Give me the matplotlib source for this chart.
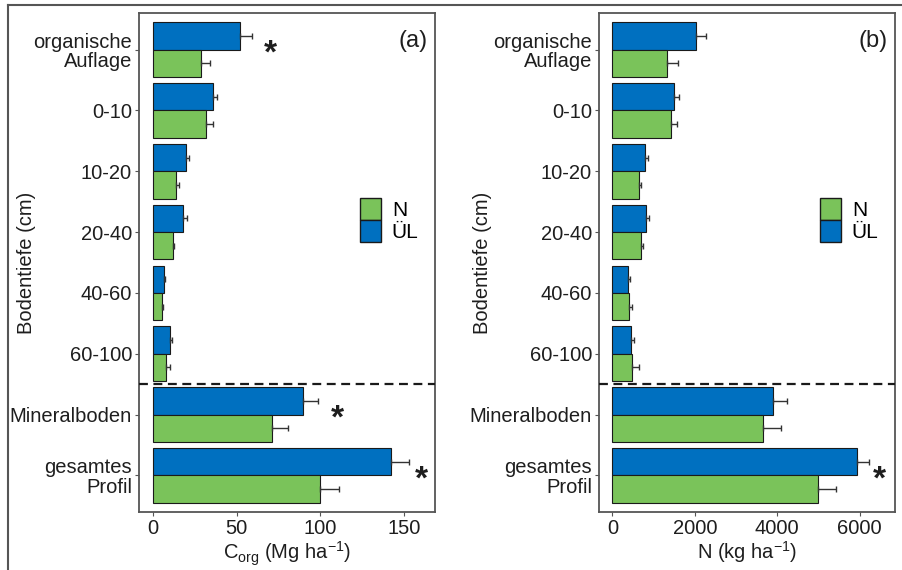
import matplotlib.pyplot as plt
import numpy as np
from matplotlib.lines import Line2D
from matplotlib.patches import Patch

plt.rcParams['font.family'] = ['Liberation Sans', 'DejaVu Sans']

categories = ["organische\nAuflage", "0-10", "10-20", "20-40", "40-60", "60-100",
              "Mineralboden", "gesamtes\nProfil"]

# Corg (Mg ha-1)
c_ul = [52.3, 36.1, 19.6, 17.8, 6.4, 10.0, 89.6, 142.2]
c_ul_err = [7.1, 2.4, 1.7, 2.4, 0.7, 1.6, 9.0, 11.0]
c_n = [28.7, 31.5, 13.6, 11.8, 5.6, 8.0, 71.0, 99.9]
c_n_err = [5.6, 4.6, 2.0, 0.8, 0.6, 2.2, 10.0, 11.6]
c_star = {0: 70.4, 6: 110.3, 7: 160.8}

# N (kg ha-1)
n_ul = [2023, 1489, 793, 818, 373, 446, 3906, 5929]
n_ul_err = [250, 121, 73, 81, 47, 81, 332, 299]
n_n = [1335, 1416, 640, 696, 412, 485, 3656, 4990]
n_n_err = [259, 146, 56, 41, 58, 163, 437, 437]
n_star = {7: 6470}

blue = "#0070C0"
green = "#7AC35A"
txt = "#1e1e1e"

fig = plt.figure(figsize=(9.03, 5.70), dpi=100)

def panel(rect, ul, ul_err, n, n_err, stars, xlim, xticks, xlabel, tag, ylab_x):
    ax = fig.add_axes(rect)
    y = np.arange(1, len(categories) + 1)
    h = 0.45
    ax.barh(y - h / 2, ul, height=h, color=blue, edgecolor="#1a1a1a", linewidth=0.8, zorder=2)
    ax.barh(y + h / 2, n, height=h, color=green, edgecolor="#1a1a1a", linewidth=0.8, zorder=2)
    ax.errorbar(ul, y - h / 2, xerr=[np.zeros(len(ul)), ul_err], fmt="none",
                ecolor="#333333", elinewidth=1.0, capsize=2.5, zorder=3)
    ax.errorbar(n, y + h / 2, xerr=[np.zeros(len(n)), n_err], fmt="none",
                ecolor="#333333", elinewidth=1.0, capsize=2.5, zorder=3)
    for i, xs in stars.items():
        ax.text(xs, y[i] + 0.08, "*", fontsize=24, fontweight="bold",
                ha="center", va="center", color=txt)
    ax.axhline(6.5, color="#1a1a1a", linestyle=(0, (4, 2.5)), linewidth=1.6, zorder=4)
    ax.set_xlim(*xlim)
    ax.set_ylim(8.6, 0.4)
    ax.set_yticks(y)
    ax.set_yticklabels(categories, fontsize=14.5, linespacing=1.05)
    ax.set_xticks(xticks)
    ax.tick_params(axis="both", labelsize=14.5, colors="#555555", labelcolor=txt,
                   length=3, pad=2)
    for s in ax.spines.values():
        s.set_color("#555555")
        s.set_linewidth(1.3)
    ax.set_xlabel(xlabel, fontsize=14.5, color=txt, labelpad=1)
    ax.set_ylabel("Bodentiefe (cm)", fontsize=14.5, color=txt)
    ax.yaxis.set_label_coords(ylab_x, 0.5)
    ax.text(0.975, 0.965, tag, transform=ax.transAxes, fontsize=17, ha="right", va="top",
            color=txt)
    handles = [Patch(facecolor=green, edgecolor="#1a1a1a", label="N"),
               Patch(facecolor=blue, edgecolor="#1a1a1a", label="ÜL")]
    ax.legend(handles=handles, loc="center left", bbox_to_anchor=(0.71, 0.585), frameon=False,
              fontsize=15, handlelength=1.05, handleheight=1.25, labelspacing=0.0,
              handletextpad=0.5, borderpad=0)
    return ax

panel([139 / 903, 1 - 512 / 570, 296 / 903, 499 / 570], c_ul, c_ul_err, c_n, c_n_err,
      c_star, (-8.4, 168.7), [0, 50, 100, 150],
      r"C$_\mathregular{org}$ (Mg ha$^\mathregular{-1}$)", "(a)", -0.348)
panel([599 / 903, 1 - 512 / 570, 296 / 903, 499 / 570], n_ul, n_ul_err, n_n, n_n_err,
      n_star, (-323, 6858), [0, 2000, 4000, 6000],
      r"N (kg ha$^\mathregular{-1}$)", "(b)", -0.362)

# outer frame lines (top and left)
fig.add_artist(Line2D([8 / 903, 1], [1 - 5 / 570] * 2, color="#555555", linewidth=1.5))
fig.add_artist(Line2D([8 / 903] * 2, [0, 1 - 5 / 570], color="#555555", linewidth=1.5))

fig.savefig("out.png", dpi=100)
